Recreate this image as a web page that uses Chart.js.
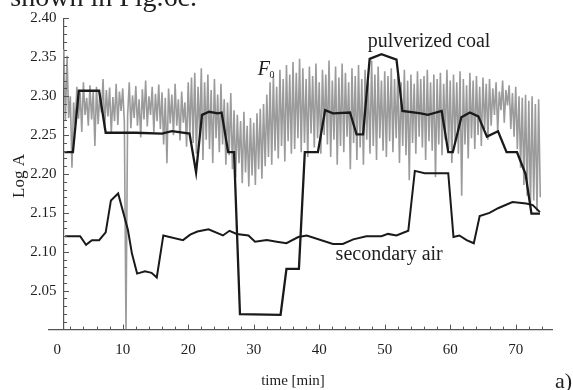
<!DOCTYPE html>
<html>
<head>
<meta charset="utf-8">
<script src="https://cdn.jsdelivr.net/npm/chart.js@4.4.0/dist/chart.umd.min.js"></script>
<style>
	html, body { margin: 0; padding: 0; background: #fff; }
	canvas { display: block; }
</style>
</head>
<body>
<canvas id="logChart" width="573" height="390"></canvas>
<script>
// pulverized coal (thick black line)
const coalTime = [1.1, 2.4, 3.3, 6.4, 7.4, 12.0, 16.0, 17.5, 20.2, 21.2, 22.1, 23.2, 24.5, 25.1, 26.1, 27.0, 27.9, 34.1, 35.0, 36.9,
	37.8, 39.8, 40.9, 42.1, 44.7, 45.7, 46.7, 47.7, 49.5, 51.8, 52.7, 55.5, 56.6, 58.7, 59.7, 60.4, 61.7, 63.0, 64.3, 65.6,
	67.3, 68.6, 70.2, 71.5, 72.4, 73.7];
const coalValue = [2.228, 2.228, 2.307, 2.307, 2.253, 2.253, 2.252, 2.255, 2.252, 2.202, 2.276, 2.280, 2.278, 2.279, 2.228, 2.228, 2.020, 2.019, 2.078, 2.078,
	2.228, 2.228, 2.282, 2.278, 2.279, 2.251, 2.251, 2.348, 2.354, 2.347, 2.281, 2.278, 2.276, 2.281, 2.228, 2.228, 2.273, 2.279, 2.274, 2.248,
	2.255, 2.228, 2.228, 2.200, 2.149, 2.149];

// secondary air
const airTime = [1.2, 3.5, 4.4, 5.3, 6.4, 7.4, 8.2, 9.3, 10.8, 11.4, 12.2, 13.4, 14.4, 15.2, 16.2, 19.2, 20.3, 21.4, 23.1, 25.3,
	26.3, 27.4, 29.2, 30.2, 32.0, 33.5, 35.0, 36.8, 38.1, 42.1, 43.6, 45.2, 47.2, 49.5, 50.5, 51.8, 53.6, 54.6, 56.1, 59.7,
	60.5, 61.4, 62.5, 63.6, 64.5, 66.0, 67.3, 69.5, 71.6, 72.6, 73.7];
const airValue = [2.120, 2.120, 2.109, 2.115, 2.115, 2.125, 2.166, 2.175, 2.128, 2.098, 2.072, 2.075, 2.073, 2.067, 2.121, 2.115, 2.122, 2.126, 2.129, 2.121,
	2.127, 2.123, 2.121, 2.113, 2.115, 2.113, 2.111, 2.119, 2.121, 2.110, 2.110, 2.116, 2.120, 2.120, 2.123, 2.121, 2.127, 2.204, 2.201, 2.201,
	2.119, 2.121, 2.115, 2.111, 2.146, 2.150, 2.156, 2.164, 2.162, 2.160, 2.151];

// F0 signal, sampled every 0.25 min from t = 1.0
const f0Start = 1.0;
const f0Step = 0.25;
const f0Value = [
	2.360, 2.268, 2.352, 2.272, 2.300, 2.208, 2.292, 2.262, 2.312, 2.271, 2.305, 2.254, 2.318, 2.276, 2.298, 2.262, 2.314, 2.270, 2.306, 2.236,
	2.312, 2.264, 2.303, 2.279, 2.322, 2.258, 2.308, 2.274, 2.311, 2.252, 2.299, 2.268, 2.316, 2.263, 2.306, 2.281, 2.310, 2.266, 2.000, 2.275,
	2.318, 2.259, 2.301, 2.272, 2.313, 2.262, 2.296, 2.247, 2.309, 2.270, 2.320, 2.261, 2.300, 2.276, 2.312, 2.254, 2.303, 2.268, 2.315, 2.258,
	2.305, 2.238, 2.298, 2.214, 2.310, 2.265, 2.302, 2.250, 2.316, 2.262, 2.296, 2.243, 2.306, 2.266, 2.292, 2.235, 2.318, 2.252, 2.324, 2.240,
	2.330, 2.226, 2.312, 2.248, 2.336, 2.218, 2.318, 2.244, 2.328, 2.232, 2.308, 2.214, 2.322, 2.246, 2.302, 2.228, 2.316, 2.238, 2.296, 2.212,
	2.292, 2.224, 2.304, 2.206, 2.282, 2.196, 2.276, 2.214, 2.268, 2.188, 2.280, 2.202, 2.262, 2.184, 2.272, 2.198, 2.266, 2.186, 2.278, 2.206,
	2.284, 2.194, 2.290, 2.210, 2.302, 2.222, 2.318, 2.212, 2.326, 2.230, 2.312, 2.220, 2.334, 2.236, 2.322, 2.216, 2.340, 2.242, 2.328, 2.226,
	2.344, 2.232, 2.330, 2.246, 2.348, 2.228, 2.336, 2.240, 2.322, 2.222, 2.338, 2.252, 2.326, 2.234, 2.342, 2.246, 2.318, 2.226, 2.334, 2.250,
	2.328, 2.238, 2.346, 2.222, 2.320, 2.244, 2.338, 2.212, 2.324, 2.236, 2.342, 2.228, 2.330, 2.248, 2.318, 2.206, 2.336, 2.240, 2.326, 2.218,
	2.340, 2.234, 2.322, 2.212, 2.334, 2.244, 2.318, 2.226, 2.346, 2.236, 2.328, 2.218, 2.338, 2.246, 2.320, 2.230, 2.332, 2.222, 2.326, 2.242,
	2.336, 2.228, 2.322, 2.246, 2.330, 2.214, 2.318, 2.236, 2.334, 2.224, 2.320, 2.192, 2.328, 2.240, 2.316, 2.226, 2.332, 2.248, 2.322, 2.234,
	2.326, 2.218, 2.334, 2.242, 2.318, 2.230, 2.328, 2.196, 2.322, 2.238, 2.330, 2.224, 2.316, 2.244, 2.334, 2.232, 2.320, 2.214, 2.328, 2.240,
	2.318, 2.226, 2.332, 2.172, 2.322, 2.238, 2.314, 2.220, 2.330, 2.246, 2.320, 2.232, 2.326, 2.250, 2.312, 2.236, 2.324, 2.258, 2.316, 2.244,
	2.322, 2.262, 2.310, 2.276, 2.318, 2.254, 2.306, 2.282, 2.320, 2.266, 2.308, 2.288, 2.314, 2.258, 2.304, 2.248, 2.312, 2.232, 2.300, 2.208,
	2.298, 2.186, 2.302, 2.172, 2.294, 2.158, 2.300, 2.166, 2.290, 2.152, 2.296, 2.170
];

// axes
const yAxisAt = 1.04; // the vertical axis crosses time here
const xMajorStep = 10;
const xMinorStep = 2;
const yMajorStep = 0.05;
const yMinorStep = 0.01;

const serif = "'Liberation Serif', 'Times New Roman', serif";
const axisColor = "#555";
const textColor = "#1e1e1e";

Chart.defaults.font.family = serif;
Chart.defaults.color = textColor;

// inward ticks and the free texts of the figure
const paperMarks = {
	id: "paperMarks",
	afterDraw(chart) {
		const ctx = chart.ctx;
		const x = chart.scales.x;
		const y = chart.scales.y;
		const x0 = x.getPixelForValue(yAxisAt);
		const yb = y.getPixelForValue(2.0);
		ctx.save();
		ctx.strokeStyle = axisColor;
		ctx.lineWidth = 1;
		ctx.beginPath();
		for (let t = xMinorStep; t <= 74; t += xMinorStep) {
			const px = Math.round(x.getPixelForValue(t)) + 0.5;
			const len = t % xMajorStep === 0 ? 5 : 3;
			ctx.moveTo(px, yb);
			ctx.lineTo(px, yb - len);
		}
		for (let k = 1; k <= 40; k++) {
			const py = Math.round(y.getPixelForValue(2 + k * yMinorStep)) + 0.5;
			const len = k % 5 === 0 ? 5 : 3;
			ctx.moveTo(x0, py);
			ctx.lineTo(x0 + len, py);
		}
		ctx.stroke();

		ctx.fillStyle = textColor;
		ctx.textBaseline = "alphabetic";
		// curve labels
		ctx.textAlign = "left";
		ctx.font = "20px " + serif;
		ctx.fillText("pulverized coal", x.getPixelForValue(47.4), y.getPixelForValue(2.363));
		ctx.fillText("secondary air", x.getPixelForValue(42.5), y.getPixelForValue(2.089));
		ctx.font = "italic 20px " + serif;
		ctx.fillText("F", x.getPixelForValue(30.6), y.getPixelForValue(2.327));
		ctx.font = "10px " + serif;
		ctx.fillText("0", x.getPixelForValue(32.4), y.getPixelForValue(2.323));
		// axis titles
		ctx.font = "15px " + serif;
		ctx.textAlign = "center";
		ctx.fillText("time [min]", 293, 385);
		ctx.save();
		ctx.translate(24, 176);
		ctx.rotate(-Math.PI / 2);
		ctx.font = "17px " + serif;
		ctx.fillText("Log A", 0, 0);
		ctx.restore();
		// panel letter and cut line of the page above
		ctx.textAlign = "right";
		ctx.font = "22px " + serif;
		ctx.fillText("a)", 572, 388);
		ctx.font = "28px " + serif;
		ctx.fillText("shown in Fig.6c.", 197, 6);
		ctx.restore();
	}
};

const toPoints = (times, values) => times.map((t, i) => ({ x: t, y: values[i] }));
const f0Points = f0Value.map((v, i) => ({ x: f0Start + i * f0Step, y: v }));

const logChart = new Chart(document.getElementById("logChart"), {
	type: "line",
	data: {
		datasets: [
			{
				label: "pulverized coal",
				data: toPoints(coalTime, coalValue),
				borderColor: "#1a1a1a",
				borderWidth: 2.3,
				pointRadius: 0,
				tension: 0
			},
			{
				label: "secondary air",
				data: toPoints(airTime, airValue),
				borderColor: "#1a1a1a",
				borderWidth: 2,
				pointRadius: 0,
				tension: 0
			},
			{
				label: "F0",
				data: f0Points,
				borderColor: "#9b9b9b",
				borderWidth: 1.6,
				pointRadius: 0,
				tension: 0
			}
		]
	},
	options: {
		responsive: false,
		animation: false,
		layout: {
			padding: { left: 48.7, right: 20.6, top: 18.4, bottom: 20.4 }
		},
		plugins: {
			legend: { display: false },
			tooltip: { enabled: false }
		},
		scales: {
			x: {
				type: "linear",
				position: "bottom",
				min: -1.3,
				max: 75.6,
				grid: { display: false, drawTicks: false },
				border: { color: axisColor, width: 1.2 },
				ticks: {
					stepSize: xMajorStep,
					includeBounds: false,
					padding: 11,
					maxRotation: 0,
					autoSkip: false,
					color: textColor,
					font: { size: 15 }
				}
			},
			y: {
				type: "linear",
				position: { x: yAxisAt },
				min: 2.0,
				max: 2.4,
				grid: { display: false, drawTicks: false },
				border: { color: axisColor, width: 1.2 },
				ticks: {
					stepSize: yMajorStep,
					includeBounds: false,
					padding: 0,
					color: textColor,
					font: { size: 15 },
					// two trailing spaces keep the labels clear of the axis line
					callback: (v) => (v < 2.01 ? "" : v.toFixed(2) + "  ")
				}
			}
		}
	},
	plugins: [paperMarks]
});
</script>
</body>
</html>
